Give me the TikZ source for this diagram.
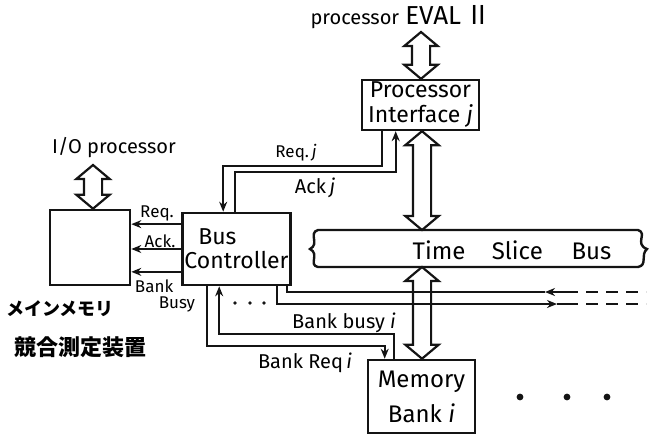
\documentclass[tikz,border=0pt]{standalone}
\usepackage{fontspec}
\setmainfont{Fira Sans}
\newfontfamily\jpfont{Noto Sans CJK JP}
\usetikzlibrary{calc, positioning, shapes.arrows, arrows.meta}
\definecolor{colInk}{HTML}{141414}

% wide hollow double arrow between two points
\newcommand{\fatlink}[2]{%
  \path let \p1=(#1), \p2=(#2), \n1={veclen(\x2-\x1,\y2-\y1)} in
    node[fatarrow, minimum height=\n1] at ($(\p1)!0.5!(\p2)$) {};}

\begin{document}
\begin{tikzpicture}[x=0.5pt, y=-0.5pt, font=\fontsize{11.5}{12}\selectfont,
  box/.style={draw=colInk, line width=1.3pt, inner sep=1pt},
  sig/.style={draw=colInk, line width=1pt, -{Stealth[length=5pt, width=4pt]}},
  wire/.style={draw=colInk, line width=1pt},
  lbl/.style={font=\fontsize{8.5}{8}\selectfont, inner sep=1pt},
  fatarrow/.style={draw=colInk, line width=1.1pt, double arrow, rotate=90,
    inner xsep=0pt, inner ysep=4pt, minimum width=0pt,
    double arrow head extend=3.8pt, double arrow tip angle=100}]
  \useasboundingbox (0,0) rectangle (654,436);

  % Boxes
  \node[box, minimum width=40pt, minimum height=37.5pt] (mem) at (90,247.5) {};
  \node[box, minimum width=53.5pt, minimum height=36pt, align=left] (bc) at (236.5,249) {\hspace{0.6em}Bus\\Controller};
  \node[box, minimum width=58.5pt, minimum height=23pt, align=center, font=\fontsize{11.5}{12.5}\selectfont] (pi) at (420.5,105) {Processor\\Interface \textit{j}};
  \node[box, minimum width=53.5pt, minimum height=36.5pt, align=center, font=\fontsize{12}{17.5}\selectfont] (mb) at (421.5,396.5) {Memory\\Bank \textit{i}};

  % Time slice bus (tape with curled ends)
  \draw[colInk, line width=1.2pt] (318,230) -- (638,230)
    .. controls (648,233) and (634,244) .. (647,249)
    .. controls (640,255) and (648,265) .. (638,267) -- (318,267)
    .. controls (308,265) and (320,254) .. (310,249)
    .. controls (320,244) and (308,233) .. (318,230) -- cycle;
  \node (tsb) at (512,250) {\fontsize{12}{12}\selectfont Time\hspace{1.1em}Slice\hspace{1.2em}Bus};
  \coordinate (tsbN) at (422,230);
  \coordinate (tsbS) at (422,267);

  % Outside labels
  \node[font=\fontsize{10}{10}\selectfont] (io) at (114,148) {I/O processor};
  \node (eval) at (401,17) {{\fontsize{10}{10}\selectfont processor} {\fontsize{13}{13}\selectfont EVAL\,{\jpfont Ⅱ}}};
  \node[font=\jpfont\bfseries\fontsize{9}{10}\selectfont] (jmem) at (60,309) {メインメモリ};
  \node[font=\jpfont\bfseries\fontsize{11}{12}\selectfont] (jcont) at (81,347) {競合測定装置};
  \coordinate (ioTip) at (93,165);
  \coordinate (evalTip) at (421,32);

  % Fat double arrows
  \fatlink{ioTip |- mem.north}{ioTip}
  \fatlink{evalTip |- pi.north}{evalTip}
  \fatlink{tsbN |- pi.south}{tsbN}
  \fatlink{tsbS}{tsbS |- mb.north}

  % Bus controller <-> main memory
  \coordinate (cReq) at ($(bc.north west)!0.167!(bc.south west)$);
  \coordinate (cAck) at ($(bc.north west)!0.5!(bc.south west)$);
  \coordinate (cBusy) at ($(bc.north west)!0.806!(bc.south west)$);
  \draw[sig] (cReq) -- (cReq -| mem.east);
  \draw[sig] (cAck) -- (cAck -| mem.east);
  \draw[sig] (cBusy) -- (cBusy -| mem.east);
  \node[lbl] (lreq) at (157,213) {Req.};
  \node[lbl] (lack) at (160,241) {Ack.};
  \node[lbl, align=left] (lbusy) at (165,296) {Bank\\\hspace{1.4em}Busy};

  % Bus controller <-> processor interface
  \draw[sig] ($(pi.south west)+(21,0)$) -- ++(0,35) -| ($(bc.north west)+(42,0)$);
  \draw[sig] ($(bc.north west)+(54,0)$) -- ++(0,-40) -| ($(pi.south west)+(35,0)$);
  \node[lbl] (lreqj) at (296,153) {Req.\,\textit{j}};
  \node[lbl, font=\fontsize{10}{10}\selectfont] (lackj) at (315,188) {Ack\,\textit{j}};

  % Bus controller <-> memory bank
  \draw[sig] ($(bc.south west)+(26,0)$) -- ++(0,60) -| ($(mb.north west)+(18,0)$);
  \draw[sig] ($(mb.north west)+(27,0)$) -- ++(0,-25) -| ($(bc.south west)+(38,0)$);
  \node[lbl, font=\fontsize{10}{10}\selectfont] (lbusyi) at (344,323) {Bank busy \textit{i}};
  \node[lbl, font=\fontsize{10}{10}\selectfont] (lreqi) at (305,363) {Bank Req\,\textit{i}};

  % Lines to the other memory banks
  \coordinate (uEnd) at (566,292);
  \coordinate (dEnd) at (566,304);
  \draw[sig] (uEnd) -- (545,292);
  \draw[wire] (545,292) -| ($(bc.south east)+(-5,0)$);
  \draw[sig] ($(bc.south east)+(-15,0)$) |- (557,304);
  \draw[wire] (557,304) -- (dEnd);
  \draw[wire, dash pattern=on 6pt off 4pt] (uEnd) -- (646,292);
  \draw[wire, dash pattern=on 6pt off 4pt] (dEnd) -- (646,304);

  % Dots
  \foreach \x in {235,250,264} {
    \fill[colInk] (\x,303) circle (0.9pt);
  }
  \foreach \x in {520,567,607} {
    \fill[colInk] (\x,397) circle (1.7pt);
  }
\end{tikzpicture}
\end{document}
